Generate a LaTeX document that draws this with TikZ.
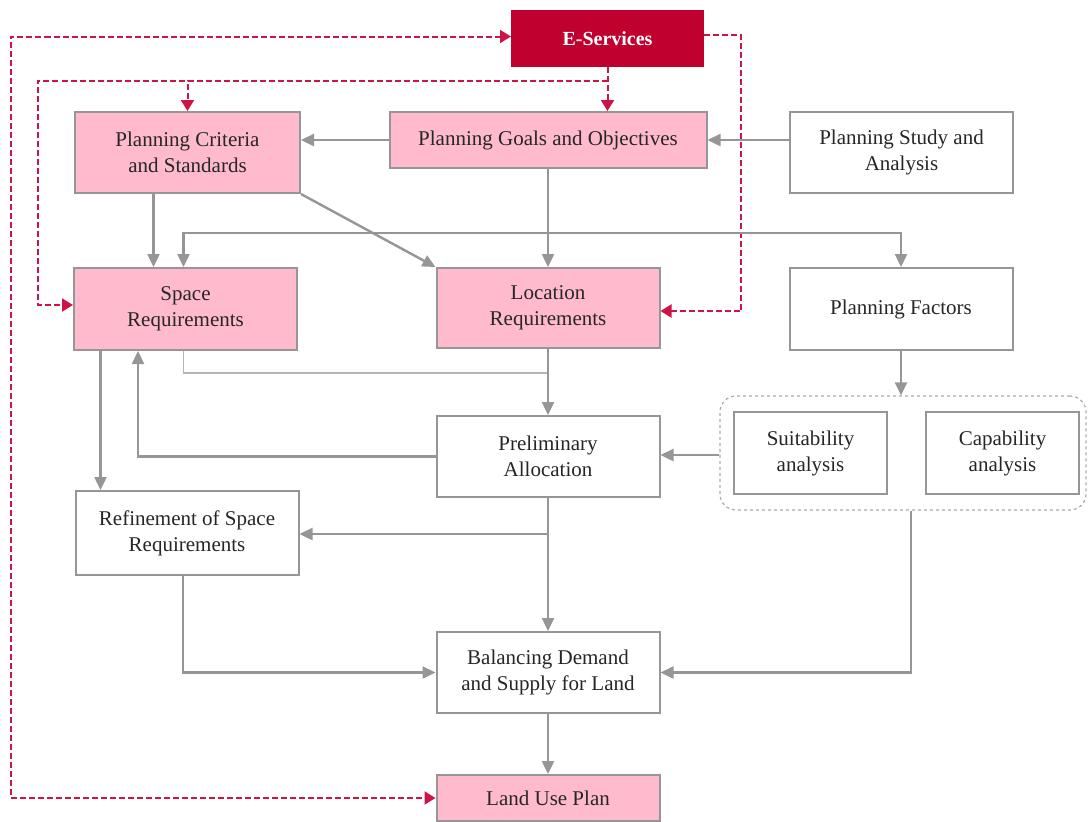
\documentclass[tikz,border=0pt]{standalone}
\usepackage{fontspec}
\setmainfont{Liberation Serif}
\usetikzlibrary{arrows.meta}
\definecolor{esred}{RGB}{192,0,47}
\definecolor{espink}{RGB}{255,187,205}
\definecolor{linegray}{RGB}{150,150,150}
\definecolor{dashred}{RGB}{204,20,70}

\begin{document}
\begin{tikzpicture}[x=0.5pt,y=-0.5pt,
  box/.style={draw=linegray,line width=1pt,fill=white,align=center,
    minimum width=111.5pt,minimum height=40.5pt,inner sep=2pt,
    font=\fontsize{10.5}{13}\selectfont,text=black!85},
  pinkbox/.style={box,fill=espink},
  arr/.style={draw=linegray,line width=1.2pt,-{Triangle[width=6pt,length=6.5pt]}},
  thinln/.style={draw=linegray!70,line width=0.8pt},
  redarr/.style={draw=dashred,line width=1pt,dash pattern=on 3pt off 1.5pt,
    -{Triangle[width=6.5pt,length=5.5pt]}}]
\useasboundingbox (0,0) rectangle (1088,821);

\node[box,fill=esred,draw=esred,text=white,font=\fontsize{10}{12}\selectfont\bfseries,
  minimum width=95.5pt,minimum height=27.5pt] (eserv) at (607.5,38.5) {E-Services};
\node[pinkbox,minimum width=112.5pt] (crit) at (187.5,152.5) {Planning Criteria\\and Standards};
\node[pinkbox,minimum width=158.5pt,minimum height=28pt] (goals) at (548,140) {Planning Goals and Objectives};
\node[box] (study) at (901.5,152.5) {Planning Study and\\Analysis};
\node[pinkbox,minimum height=41pt] (space) at (185.5,309) {Space\\Requirements};
\node[pinkbox,minimum height=40pt] (loc) at (548,308) {Location\\Requirements};
\node[box,minimum height=41pt] (factors) at (901,309) {Planning Factors};
\node[box,draw=linegray!80,dash pattern=on 1.5pt off 1.5pt,line width=0.6pt,rounded corners=8pt,
  minimum width=183pt,minimum height=57pt] (group) at (903,453) {};
\node[box] (prelim) at (548,456.5) {Preliminary\\Allocation};
\node[box,minimum width=76.5pt,minimum height=41pt] (suit) at (810.5,453) {Suitability\\analysis};
\node[box,minimum width=76.5pt,minimum height=41pt] (capab) at (1002.5,453) {Capability\\analysis};
\node[box,minimum height=42pt] (refine) at (187,533) {Refinement of Space\\Requirements};
\node[box] (balance) at (548,672.5) {Balancing Demand\\and Supply for Land};
\node[pinkbox,minimum height=23pt] (lup) at (548,798) {Land Use Plan};

\draw[redarr,{Triangle[width=6.5pt,length=5.5pt]}-{Triangle[width=6.5pt,length=5.5pt]}]
  ([yshift=1pt]eserv.west) -- ++(-500,0) |- (lup.west);
\coordinate (ej) at ([yshift=-7pt]eserv.south);
\draw[redarr] (eserv.south) -- (eserv.south |- goals.north);
\draw[redarr] (ej) -| (crit.north);
\draw[redarr] (ej) -- ++(-570,0) |- ([yshift=2pt]space.west);
\draw[redarr] ([yshift=2pt]eserv.east) -- ++(37,0) |- ([yshift=-1.5pt]loc.east);

\draw[arr] (goals.west) -- (goals.west -| crit.east);
\draw[arr] (study.west |- goals.east) -- (goals.east);
\draw[arr] ([xshift=-17pt]crit.south) -- ([xshift=-17pt]crit.south |- space.north);
\draw[arr] (crit.south east) -- (loc.north west);
\draw[arr] (goals.south) -- (loc.north);
\coordinate (gb) at ([yshift=-32pt]goals.south);
\draw[arr] (gb) -| ([xshift=-1pt]space.north);
\draw[arr] (gb) -| (factors.north);
\draw[thinln] ([xshift=-1pt]space.south) |- ([yshift=-12pt]loc.south);
\draw[arr] (loc.south) -- (prelim.north);
\draw[arr] ([xshift=-42.5pt]space.south) -- ([xshift=-42.5pt]space.south |- refine.north);
\draw[arr] (prelim.west) -| ([xshift=-23.75pt]space.south);
\draw[arr] (factors.south) -- (factors.south |- group.north);
\draw[arr] ([yshift=-1pt]group.west) -- ([yshift=-1pt]group.west -| prelim.east);
\draw[arr] (prelim.south) -- (balance.north);
\coordinate (pb) at ([yshift=-18pt]prelim.south);
\draw[arr] (pb) -- (pb -| refine.east);
\draw[arr] ([xshift=-2pt]refine.south) |- (balance.west);
\draw[arr] ([xshift=4pt]group.south) |- (balance.east);
\draw[arr] (balance.south) -- (lup.north);
\end{tikzpicture}
\end{document}
